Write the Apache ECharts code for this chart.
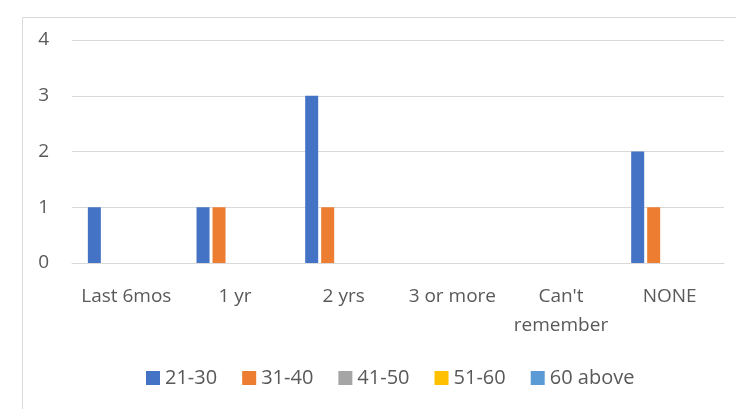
<!DOCTYPE html>
<html>
<head>
<meta charset="utf-8">
<script src="https://cdn.jsdelivr.net/npm/echarts@6/dist/echarts.min.js"></script>
<style>
html,body{margin:0;padding:0;background:#fff;}
#c{width:736px;height:409px;}
</style>
</head>
<body>
<div id="c"></div>
<script>
const categories = ["Last 6mos", "1 yr", "2 yrs", "3 or more", "Can't remember", "NONE"];
const seriesNames = ["21-30", "31-40", "41-50", "51-60", "60 above"];
const s21_30 = [1, 1, 3, 0, 0, 2];
const s31_40 = [0, 1, 1, 0, 0, 1];
const s41_50 = [0, 0, 0, 0, 0, 0];
const s51_60 = [0, 0, 0, 0, 0, 0];
const s60above = [0, 0, 0, 0, 0, 0];
const yTicks = [0, 1, 2, 3, 4];

const colors = ["#4472C4", "#ED7D31", "#A5A5A5", "#FFC000", "#5B9BD5"];
const values = [s21_30, s31_40, s41_50, s51_60, s60above];
const font = "'Open Sans', 'Noto Sans', sans-serif";

const chart = echarts.init(document.getElementById('c'), null, {renderer: 'canvas'});
chart.setOption({
  animation: false,
  color: colors,
  graphic: [{
    type: 'rect', left: 20, top: 15, silent: true,
    shape: {width: 800, height: 500},
    style: {fill: 'none', stroke: '#d9d9d9', lineWidth: 1}
  }],
  grid: {left: 72, right: 12, top: 40, bottom: 146, containLabel: false},
  legend: {
    top: 363, left: 141,
    itemWidth: 14, itemHeight: 14, itemGap: 25,
    icon: 'rect',
    textStyle: {color: '#595959', fontSize: 20, fontFamily: font},
    data: seriesNames
  },
  xAxis: {
    type: 'category',
    data: categories,
    axisLine: {show: true, lineStyle: {color: '#d9d9d9', width: 1}},
    axisTick: {show: false},
    axisLabel: {
      interval: 0, color: '#595959', fontSize: 19, fontFamily: font,
      margin: 19, lineHeight: 29,
      formatter: v => v === "Can't remember" ? "Can't\nremember" : v
    }
  },
  yAxis: {
    type: 'value', min: 0, max: 4, interval: 1,
    axisLine: {show: false}, axisTick: {show: false},
    splitLine: {lineStyle: {color: '#d9d9d9', width: 1}},
    axisLabel: {color: '#595959', fontSize: 19, fontFamily: font, margin: 23,
      formatter: v => yTicks.includes(v) ? String(v) : ''}
  },
  series: seriesNames.map((n, i) => ({
    name: n, type: 'bar', data: values[i],
    barWidth: 13, barGap: '23%',
    itemStyle: {color: colors[i]}
  }))
});
</script>
</body>
</html>
